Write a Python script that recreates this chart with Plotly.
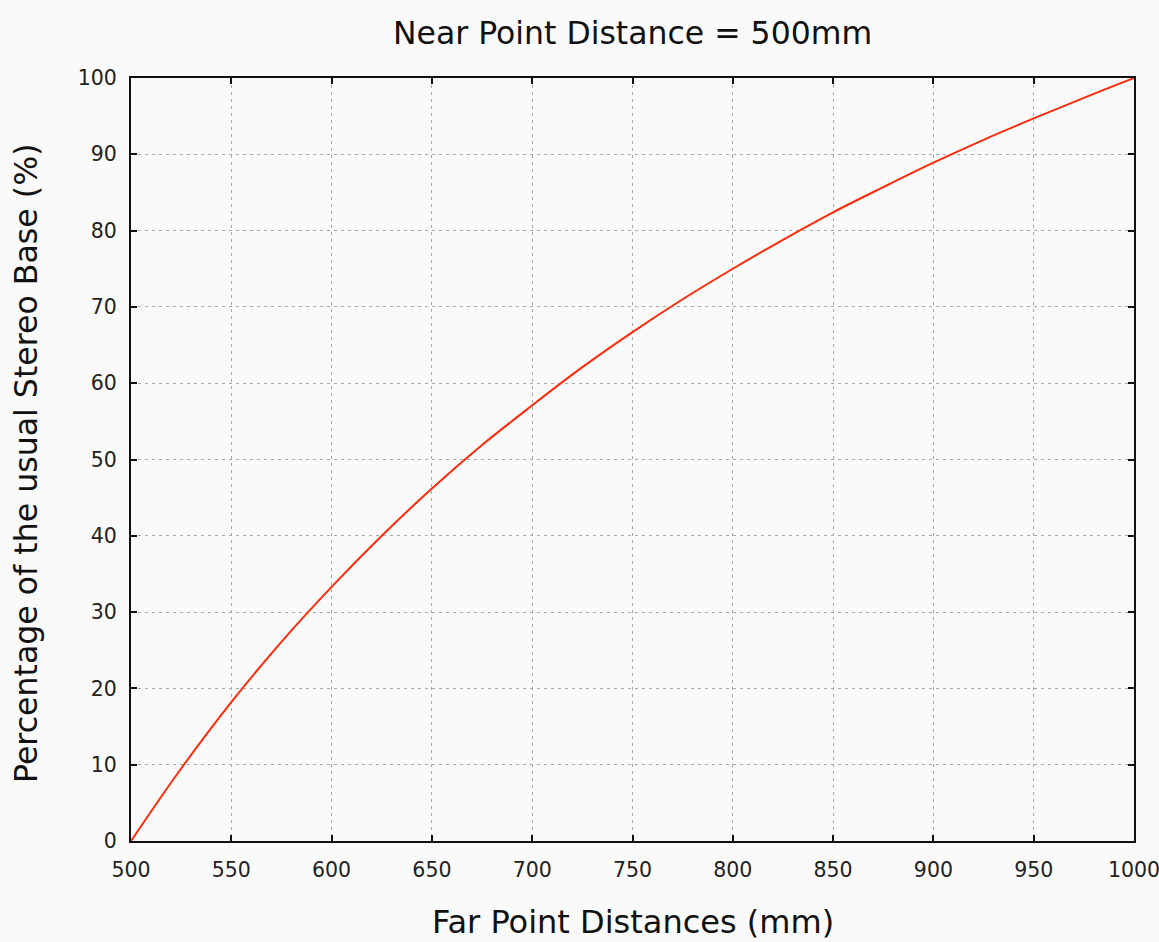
import plotly.graph_objects as go

far_mm = [500, 525, 550, 575, 600, 625, 650, 675, 700, 725, 750, 775, 800,
          825, 850, 875, 900, 925, 950, 975, 1000]
pct = [0, 9.5, 18.2, 26.1, 33.3, 40.0, 46.2, 51.9, 57.1, 62.1, 66.7, 71.0, 75.0,
       78.8, 82.4, 85.7, 88.9, 91.9, 94.7, 97.4, 100]
x_ticks = list(range(500, 1001, 50))
y_ticks = list(range(0, 101, 10))

title = "Near Point Distance = 500mm"
x_title = "Far Point Distances (mm)"
y_title = "Percentage of the usual Stereo Base (%)"

font = "DejaVu Sans"
fig = go.Figure()
fig.add_trace(go.Scatter(x=far_mm, y=pct, mode="lines", line=dict(color="#ff2a0a", width=2),
                         line_shape="spline", showlegend=False))

axis_common = dict(showline=True, linecolor="#111", linewidth=2, mirror="ticks",
                   ticks="inside", ticklen=6, tickwidth=2, tickcolor="#111",
                   showgrid=True, gridcolor="#a8a8a8", griddash="3px,4px", gridwidth=1,
                   zeroline=False, ticklabeloverflow="allow", automargin=False,
                   tickfont=dict(family=font, size=20.5, color="#222"))

fig.update_xaxes(range=[500, 1000], tickvals=x_ticks, ticklabelstandoff=9, **axis_common)
fig.update_yaxes(range=[0, 100], tickvals=y_ticks, ticklabelstandoff=8, **axis_common)

fig.update_layout(
    width=1159, height=942,
    margin=dict(l=131, r=25, t=78, b=101, autoexpand=False),
    paper_bgcolor="#fafafa", plot_bgcolor="#fafafa",
    annotations=[
        dict(text=title, xref="paper", yref="paper", x=0.5, y=1, yshift=45,
             xanchor="center", yanchor="middle",
             showarrow=False, font=dict(family=font, size=31.5, color="#111")),
        dict(text=x_title, xref="paper", yref="paper", x=0.5, y=0, yshift=-81,
             xanchor="center", yanchor="middle",
             showarrow=False, font=dict(family=font, size=32, color="#111")),
        dict(text=y_title, xref="paper", yref="paper", x=0, y=0.5, xshift=-105, yshift=-4.5,
             xanchor="center", yanchor="middle",
             textangle=-90, showarrow=False, font=dict(family=font, size=31.6, color="#111")),
    ],
)
fig.write_html("out.html", config={"displayModeBar": False},
               post_script="document.body.style.margin='0';document.body.style.background='#fafafa';")
